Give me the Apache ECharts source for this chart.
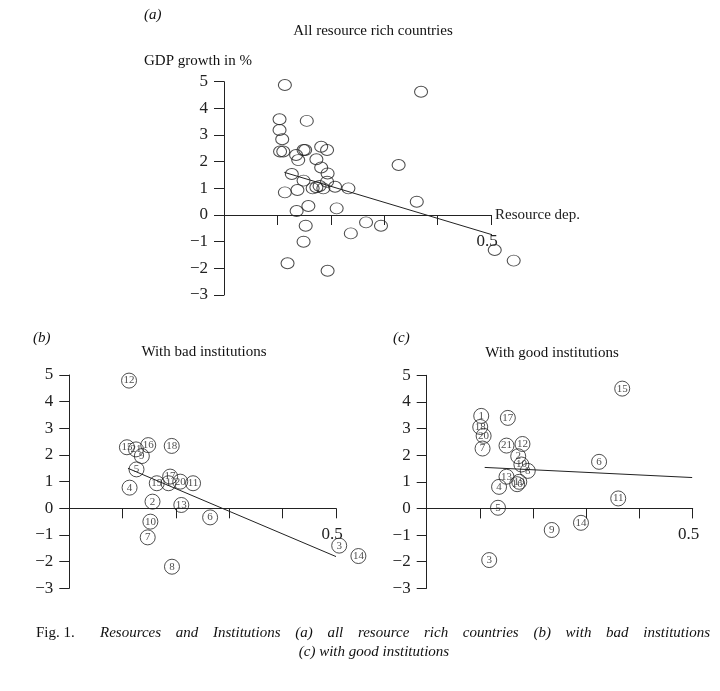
<!DOCTYPE html>
<html><head><meta charset="utf-8">
<script src="https://cdn.jsdelivr.net/npm/echarts@6/dist/echarts.min.js"></script>
<style>html,body{margin:0;padding:0;background:#fff}#c{width:720px;height:691px}</style>
</head><body><div id="c"></div>
<script>
// ---- data ----
const yTicks = [-3, -2, -1, 0, 1, 2, 3, 4, 5];
const xTickShown = ['0.5'];

// (a) all resource rich countries
const aResDep = [0.114, 0.369, 0.104, 0.155, 0.104, 0.109, 0.105, 0.111, 0.149, 0.152, 0.182, 0.193, 0.135, 0.139,
  0.173, 0.182, 0.327, 0.127, 0.194, 0.149, 0.193, 0.114, 0.1375, 0.166, 0.173, 0.179, 0.186, 0.208, 0.233,
  0.361, 0.136, 0.158, 0.211, 0.153, 0.266, 0.294, 0.2375, 0.149, 0.119, 0.194, 0.507, 0.5425];
const aGrowth = [4.875, 4.625, 3.59, 3.53, 3.19, 2.84, 2.38, 2.38, 2.44, 2.44, 2.56, 2.44, 2.25, 2.06,
  2.09, 1.78, 1.875, 1.54, 1.56, 1.29, 1.25, 0.85, 0.94, 1.0, 1.04, 1.09, 1.0, 1.06, 1.0,
  0.5, 0.15, 0.34, 0.25, -0.4, -0.275, -0.4, -0.69, -1.0, -1.81, -2.09, -1.31, -1.71];
const aFitX = [0.113, 0.508];
const aFitY = [1.6, -0.775];

// (b) with bad institutions
const bIds = [1, 2, 3, 4, 5, 6, 7, 8, 9, 10, 11, 12, 13, 14, 15, 16, 17, 18, 19, 20, 21];
const bResDep = [0.186, 0.156, 0.506, 0.113, 0.126, 0.264, 0.147, 0.1925, 0.136, 0.152, 0.232,
  0.112, 0.21, 0.542, 0.108, 0.148, 0.189, 0.192, 0.164, 0.208, 0.125];
const bGrowth = [0.94, 0.25, -1.4, 0.775, 1.46, -0.34, -1.09, -2.19, 1.96, -0.5, 0.94,
  4.79, 0.125, -1.79, 2.29, 2.37, 1.19, 2.34, 0.94, 1.0, 2.21];
const bFitX = [0.11, 0.5];
const bFitY = [1.5, -1.81];

// (c) with good institutions
const cIds = [1, 2, 3, 4, 5, 6, 7, 8, 9, 10, 11, 12, 13, 14, 15, 16, 17, 18, 19, 20, 21];
const cResDep = [0.1025, 0.172, 0.1175, 0.136, 0.134, 0.324, 0.105, 0.19, 0.235, 0.178, 0.36,
  0.18, 0.15, 0.29, 0.3675, 0.17, 0.1525, 0.1006, 0.174, 0.107, 0.15];
const cGrowth = [3.475, 1.96, -1.94, 0.81, 0.025, 1.75, 2.25, 1.41, -0.81, 1.65, 0.375,
  2.42, 1.19, -0.54, 4.5, 0.91, 3.4, 3.06, 1.0, 2.725, 2.36];
const cFitX = [0.109, 0.499];
const cFitY = [1.54, 1.16];

// ---- styling ----
const SERIF = '"Liberation Serif", "DejaVu Serif", serif';
const INK = '#222';
const zip = (xs, ys) => xs.map((x, i) => [x, ys[i]]);
const Y_MIN = yTicks[0], Y_MAX = yTicks[yTicks.length - 1];

const grids = [
  { left: 224, top: 81.7, width: 267, height: 213.3 },
  { left: 69.3, top: 375, width: 266.7, height: 213.3 },
  { left: 426.7, top: 375.3, width: 266, height: 213 }
];

function xAxis(gi, name) {
  // place the horizontal axis on the y = 0 line of its grid
  const shift = -grids[gi].height * (0 - Y_MIN) / (Y_MAX - Y_MIN);
  return {
    type: 'value', gridIndex: gi, min: 0, max: 0.5, interval: 0.1, position: 'bottom', offset: shift,
    name: name || '', nameLocation: 'end', nameGap: 4,
    nameTextStyle: { fontFamily: SERIF, fontSize: 15, color: INK },
    axisLine: { show: true, onZero: false, lineStyle: { color: INK, width: 1 } },
    axisTick: { show: true, length: 10, lineStyle: { color: INK, width: 1 } },
    axisLabel: {
      margin: 18, fontFamily: SERIF, fontSize: 17, color: INK, padding: [0, 8, 0, 0],
      formatter: v => { const s = (Math.round(v * 10) / 10).toString(); return xTickShown.includes(s) ? s : ''; }
    },
    splitLine: { show: false }
  };
}
function yAxis(gi) {
  return {
    type: 'value', gridIndex: gi, min: Y_MIN, max: Y_MAX, interval: 1,
    axisLine: { show: true, onZero: false, lineStyle: { color: INK, width: 1 } },
    axisTick: { show: true, length: 10, lineStyle: { color: INK, width: 1 } },
    axisLabel: { margin: 16, fontFamily: SERIF, fontSize: 17, color: INK,
      formatter: v => String(v).replace('-', '\u2212') },
    splitLine: { show: false }
  };
}
function pts(gi, data, size, ids) {
  return {
    type: 'scatter', xAxisIndex: gi, yAxisIndex: gi, clip: false, silent: true,
    symbol: 'circle', symbolSize: size,
    itemStyle: { color: 'rgba(255,255,255,0)', borderColor: INK, borderWidth: 1 },
    label: ids ? { show: true, position: 'inside', color: INK, fontFamily: SERIF, fontSize: 11,
      formatter: p => String(ids[p.dataIndex]) } : { show: false },
    data: data
  };
}
function fit(gi, xs, ys) {
  return {
    type: 'line', xAxisIndex: gi, yAxisIndex: gi, clip: false, silent: true,
    symbol: 'none', lineStyle: { color: INK, width: 1 }, data: zip(xs, ys)
  };
}

// ---- texts ----
function txt(text, x, y, opt) {
  opt = opt || {};
  return { type: 'text', x: x, y: y, silent: true,
    style: { text: text, fontFamily: SERIF, fontSize: opt.size || 15, fontStyle: opt.italic ? 'italic' : 'normal',
      fill: '#111', align: opt.align || 'left', verticalAlign: 'middle' } };
}
function justify(line, x0, x1, y, size) {
  const ctx = document.createElement('canvas').getContext('2d');
  ctx.font = 'italic ' + size + 'px ' + SERIF;
  const words = line.split(' ');
  const widths = words.map(w => ctx.measureText(w).width);
  const total = widths.reduce((a, b) => a + b, 0);
  const gap = (x1 - x0 - total) / (words.length - 1);
  let x = x0; const out = [];
  words.forEach((w, i) => { out.push(txt(w, x, y, { size: size, italic: true })); x += widths[i] + gap; });
  return out;
}
const captionLead = 'Fig. 1.';
const captionLine1 = 'Resources and Institutions (a) all resource rich countries (b) with bad institutions';
const captionLine2 = '(c) with good institutions';

const graphics = [
  txt('(a)', 144, 15, { italic: true }),
  txt('All resource rich countries', 373, 31, { align: 'center' }),
  txt('GDP growth in %', 144, 61),
  txt('(b)', 33, 338, { italic: true }),
  txt('With bad institutions', 204, 352, { align: 'center' }),
  txt('(c)', 393, 338, { italic: true }),
  txt('With good institutions', 552, 353, { align: 'center' }),
  txt(captionLead, 36, 633, { size: 15 }),
  txt(captionLine2, 374, 652, { size: 15, italic: true, align: 'center' })
].concat(justify(captionLine1, 100, 710, 633, 15));

const chart = echarts.init(document.getElementById('c'), null, { renderer: 'canvas' });
chart.setOption({
  animation: false,
  backgroundColor: '#fff',
  grid: grids,
  xAxis: [xAxis(0, 'Resource dep.'), xAxis(1), xAxis(2)],
  yAxis: [yAxis(0), yAxis(1), yAxis(2)],
  series: [
    pts(0, zip(aResDep, aGrowth), [13, 11]),
    fit(0, aFitX, aFitY),
    pts(1, zip(bResDep, bGrowth), 15, bIds),
    fit(1, bFitX, bFitY),
    pts(2, zip(cResDep, cGrowth), 15, cIds),
    fit(2, cFitX, cFitY)
  ],
  graphic: graphics
});
</script></body></html>
